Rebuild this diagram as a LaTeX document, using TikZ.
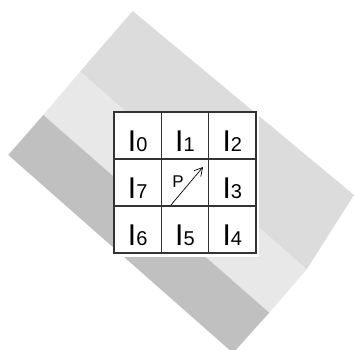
\documentclass[tikz,border=0pt]{standalone}
\usepackage{fontspec}
\setmainfont{Liberation Sans}
\usepackage{tikz}
\usetikzlibrary{arrows.meta, positioning}
\definecolor{bandtop}{HTML}{DCDCDC}
\definecolor{bandmid}{HTML}{E8E8E8}
\definecolor{bandlow}{HTML}{C0C0C0}
\definecolor{gridline}{HTML}{333333}
\newcommand{\nb}[1]{{\fontsize{30}{30}\selectfont I}{\fontsize{20}{20}\selectfont #1}}
\tikzset{
    cell/.style={rectangle, draw=gridline, line width=1.6pt, fill=white, minimum width=47.3pt, minimum height=47pt, outer sep=0pt, inner sep=0pt, text height=33pt, text depth=0pt},
    dirarrow/.style={-{Straight Barb[length=8pt, width=9pt]}, line width=0.7pt}
}

\begin{document}
\begin{tikzpicture}[x=1pt, y=-1pt]
    \useasboundingbox (0,0) rectangle (354,350);
    \clip (0,0) rectangle (354,350);
    % Bands
    \fill [bandtop] (132.7,11) -- (354,195) -- (306.7,269.3) -- (80,71.7) -- cycle;
    \fill [bandmid] (80,71.7) -- (306.7,269.3) -- (269.3,312.7) -- (43.3,115) -- cycle;
    \fill [bandlow] (43.3,115) -- (269.3,312.7) -- (233,353) -- (8.3,155) -- cycle;
    \fill [white] (114,112) rectangle (259,257);

    % Neighbourhood
    \node [cell, anchor=north west] (c0) at (114,112) {\nb{0}};
    \node [cell, right=0pt of c0] (c1) {\nb{1}};
    \node [cell, right=0pt of c1] (c2) {\nb{2}};
    \node [cell, below=0pt of c0] (c7) {\nb{7}};
    \node [cell, right=0pt of c7] (cp) {};
    \node [cell, right=0pt of cp] (c3) {\nb{3}};
    \node [cell, below=0pt of c7] (c6) {\nb{6}};
    \node [cell, right=0pt of c6] (c5) {\nb{5}};
    \node [cell, right=0pt of c5] (c4) {\nb{4}};

    % Centre pixel and direction
    \node [font=\fontsize{17}{17}\selectfont] (p) at (178,182) {P};
    \coordinate (dstart) at (171,205);
    \coordinate (dend) at (203,167);
    \draw [dirarrow] (dstart) -- (dend);
\end{tikzpicture}
\end{document}
